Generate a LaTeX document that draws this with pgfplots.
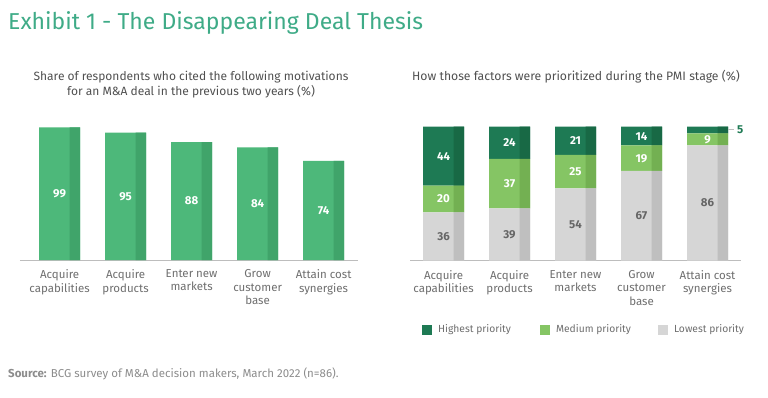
\documentclass[border=0pt]{standalone}
\usepackage{pgfplots}
\pgfplotsset{compat=1.18}
\usepackage{pgfplotstable}
\usepackage{fontspec}
\setmainfont{Fira Sans}

\definecolor{titlegreen}{HTML}{3FAB87}
\definecolor{barg}{HTML}{4DB87A}
\definecolor{bargdark}{HTML}{40A46A}
\definecolor{highg}{HTML}{1E7A54}
\definecolor{highgdark}{HTML}{186945}
\definecolor{medg}{HTML}{85C564}
\definecolor{medgdark}{HTML}{73B052}
\definecolor{lowg}{HTML}{D6D6D6}
\definecolor{lowgdark}{HTML}{BFBFBF}
\definecolor{axisgray}{HTML}{BDBDBD}
\definecolor{labgray}{HTML}{6E6E6E}
\definecolor{subgray}{HTML}{505050}
\definecolor{srcgray}{HTML}{8C8C8C}
\definecolor{valgray}{HTML}{666666}

\pgfplotstableread{
cat v
0 99
1 95
2 88
3 84
4 74
}\motiv

\pgfplotstableread{
cat low med high
0 36 20 44
1 39 37 24
2 54 25 21
3 67 19 14
4 86 9 5
}\prio

\pgfplotsset{
  geom/.style={scale only axis, x=66pt, y=1.34pt, ymin=0, ymax=100, clip=false, anchor=south west,
    /pgf/number format/assume math mode=true},
  ticks/.style={axis x line*=bottom, axis y line=none, ytick=\empty,
    x axis line style={draw=axisgray, line width=0.8pt, -},
    xtick={0,...,4}, major tick length=0pt,
    xticklabels={{Acquire\\capabilities},{Acquire\\products},{Enter new\\markets},{Grow\\customer\\base},{Attain cost\\synergies}},
    xticklabel style={align=center, font=\fontsize{11.5}{13.5}\selectfont, text=labgray, yshift=-6pt}},
  vallab/.style={only marks, mark=none, point meta=explicit, nodes near coords,
    every node near coord/.style={anchor=center, font=\bfseries\fontsize{11.5}{12}\selectfont, text=#1}},
}

\begin{document}
\begin{tikzpicture}
\path (0pt,0pt) rectangle (768pt,-397pt);
\node[anchor=base west, inner sep=0pt, font=\fontsize{23}{26}\selectfont, text=titlegreen] at (8pt,-29pt) {Exhibit 1 - The Disappearing Deal Thesis};
\node[anchor=base, inner sep=0pt, font=\fontsize{12}{14}\selectfont, text=subgray] at (191pt,-80pt) {Share of respondents who cited the following motivations};
\node[anchor=base, inner sep=0pt, font=\fontsize{12}{14}\selectfont, text=subgray] at (191pt,-95pt) {for an M\&A deal in the previous two years (\%)};
\node[anchor=base, inner sep=0pt, font=\fontsize{12.2}{14}\selectfont, text=subgray] at (576pt,-80pt) {How those factors were prioritized during the PMI stage (\%)};
\node[anchor=base west, inner sep=0pt, font=\fontsize{11.5}{13}\selectfont, text=srcgray] at (8pt,-377pt) {\textbf{Source:} BCG survey of M\&A decision makers, March 2022 (n=86).};

% Left chart
\begin{axis}[geom, ticks, at={(20pt,-260pt)}, xmin=-0.6, xmax=4.52]
\addplot[ybar, bar width=41pt, bar shift=0pt, fill=barg, draw=none] table[x=cat, y=v] {\motiv};
\addplot[ybar, bar width=10.5pt, bar shift=15.25pt, fill=bargdark, draw=none] table[x=cat, y=v] {\motiv};
\addplot[vallab=white] table[x=cat, y expr=\thisrow{v}/2, meta=v] {\motiv};
\end{axis}

% Right chart: main stacked bars
\begin{axis}[geom, ticks, at={(410pt,-260.7pt)}, xmin=-0.508, xmax=4.503,
  ybar stacked, bar width=41pt,
  reverse legend, legend columns=3,
  legend style={at={(0.036,-0.515)}, anchor=west, draw=none, fill=none, inner sep=0pt,
    font=\fontsize{10.3}{12}\selectfont, text=labgray,
    /tikz/every even column/.append style={column sep=0pt}}]
\addplot[fill=lowg, draw=none, legend image code/.code={\fill[lowg] (0pt,-5pt) rectangle (10pt,5pt);}] table[x=cat, y=low] {\prio};
\addlegendentry{\hspace{4pt}Lowest priority}
\addplot[fill=medg, draw=none, legend image code/.code={\fill[medg] (0pt,-5pt) rectangle (10pt,5pt);}] table[x=cat, y=med] {\prio};
\addlegendentry{\makebox[104pt][l]{\hspace{4pt}Medium priority}}
\addplot[fill=highg, draw=none, legend image code/.code={\fill[highg] (0pt,-5pt) rectangle (10pt,5pt);}] table[x=cat, y=high] {\prio};
\addlegendentry{\makebox[104pt][l]{\hspace{4pt}Highest priority}}
\end{axis}

% Right chart: darker stripes
\begin{axis}[geom, hide axis, at={(410pt,-260.7pt)}, xmin=-0.508, xmax=4.503,
  ybar stacked, bar width=10.5pt, bar shift=15.25pt]
\addplot[fill=lowgdark, draw=none] table[x=cat, y=low] {\prio};
\addplot[fill=medgdark, draw=none] table[x=cat, y=med] {\prio};
\addplot[fill=highgdark, draw=none] table[x=cat, y=high] {\prio};
\end{axis}

% Right chart: labels
\begin{axis}[geom, hide axis, at={(410pt,-260.7pt)}, xmin=-0.508, xmax=4.503]
\addplot[vallab=valgray] table[x=cat, y expr=\thisrow{low}/2, meta=low] {\prio};
\addplot[vallab=white] table[x=cat, y expr=\thisrow{low}+\thisrow{med}/2, meta=med] {\prio};
\addplot[vallab=white, skip coords between index={4}{5}] table[x=cat, y expr=\thisrow{low}+\thisrow{med}+\thisrow{high}/2, meta=high] {\prio};
\addplot[only marks, mark=none, point meta=explicit symbolic,
  nodes near coords={\textcolor{axisgray}{\rule[3.8pt]{6pt}{0.8pt}}\hspace{3pt}\textcolor{highg}{\bfseries 5}},
  every node near coord/.style={anchor=west, xshift=20.5pt, inner sep=0pt, font=\fontsize{11.5}{12}\selectfont}]
  coordinates {(4,97.5)};
\end{axis}
\end{tikzpicture}
\end{document}
